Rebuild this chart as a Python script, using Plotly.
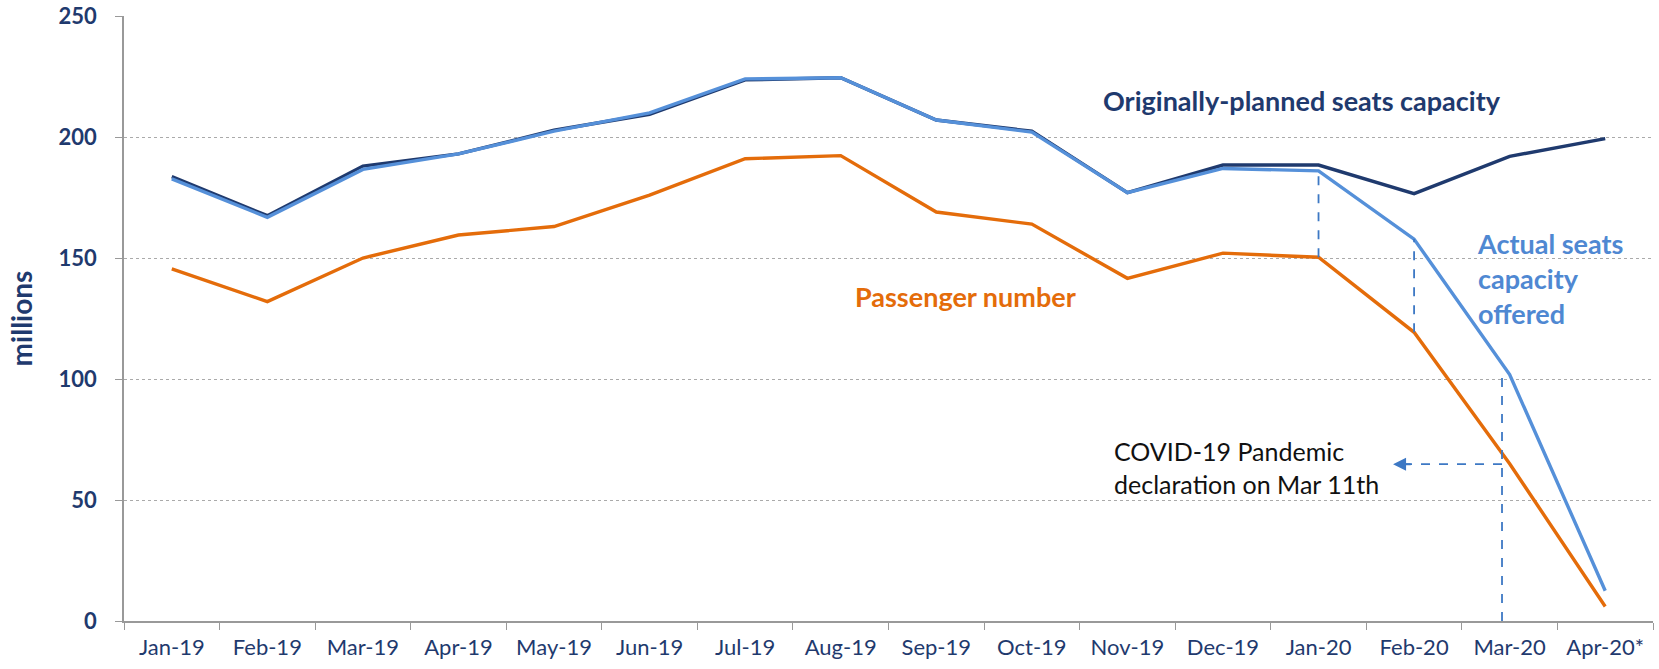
import plotly.graph_objects as go

months = ["Jan-19", "Feb-19", "Mar-19", "Apr-19", "May-19", "Jun-19", "Jul-19", "Aug-19",
          "Sep-19", "Oct-19", "Nov-19", "Dec-19", "Jan-20", "Feb-20", "Mar-20", "Apr-20*"]
planned = [183.6, 167.5, 188.0, 193.0, 202.8, 209.4, 223.6, 224.5,
           207.0, 202.4, 177.0, 188.4, 188.4, 176.6, 192.0, 199.3]
actual = [182.7, 166.8, 186.6, 193.0, 202.4, 210.0, 224.0, 224.5,
          207.0, 202.0, 177.0, 187.0, 186.0, 157.8, 101.8, 12.5]
passengers = [145.5, 132.0, 150.0, 159.5, 163.0, 176.0, 191.0, 192.3,
              169.0, 164.0, 141.6, 152.0, 150.3, 119.3, 65.0, 6.0]

NAVY = "#1F3A6E"
LIGHT = "#5590D9"
LIGHT_TXT = "#4F88D2"
ORANGE = "#E46C0A"
DASH = "#3D78C4"
FONT = "Lato, sans-serif"

fig = go.Figure()
fig.add_trace(go.Scatter(x=months, y=planned, mode="lines",
                         line=dict(color=NAVY, width=3.4), name="Originally-planned seats capacity"))
fig.add_trace(go.Scatter(x=months, y=actual, mode="lines",
                         line=dict(color=LIGHT, width=3.4), name="Actual seats capacity offered"))
fig.add_trace(go.Scatter(x=months, y=passengers, mode="lines",
                         line=dict(color=ORANGE, width=3.4), name="Passenger number"))

# dashed drop lines
jan20 = months.index("Jan-20")
feb20 = months.index("Feb-20")
mar20 = months.index("Mar-20")
mar_x = mar20 - 0.08
for xi, y0, y1 in [(jan20, passengers[jan20], actual[jan20]),
                   (feb20, passengers[feb20], actual[feb20]),
                   (mar_x, 0, actual[mar20])]:
    fig.add_shape(type="line", xref="x", yref="y", x0=xi, x1=xi, y0=y0, y1=y1,
                  line=dict(color=DASH, width=1.8, dash="dash"))

arrow_y = 64.8
arrow_end = 12.78
fig.add_shape(type="line", xref="x", yref="y", x0=mar_x, x1=arrow_end + 0.12, y0=arrow_y, y1=arrow_y,
              line=dict(color=DASH, width=1.8, dash="dash"))
fig.add_annotation(x=arrow_end, y=arrow_y, ax=arrow_end + 0.2, ay=arrow_y, xref="x", yref="y",
                   axref="x", ayref="y", text="", showarrow=True, arrowhead=2, arrowsize=1.3,
                   arrowwidth=2, arrowcolor=DASH, standoff=0)

fig.add_annotation(x=9.84, y=63.5, xref="x", yref="y", xanchor="left", yanchor="middle",
                   text="COVID-19 Pandemic<br>declaration on Mar 11th", showarrow=False, align="left",
                   font=dict(family=FONT, size=25, color="#111111"))
fig.add_annotation(x=11.83, y=215, xref="x", yref="y", xanchor="center", yanchor="middle",
                   text="<b>Originally-planned seats capacity</b>", showarrow=False,
                   font=dict(family=FONT, size=27, color=NAVY))
fig.add_annotation(x=13.64, y=141.7, xref="x", yref="y", xanchor="left", yanchor="middle",
                   text="<b>Actual seats<br>capacity<br>offered</b>", showarrow=False, align="left",
                   font=dict(family=FONT, size=27, color=LIGHT_TXT))
fig.add_annotation(x=8.31, y=134, xref="x", yref="y", xanchor="center", yanchor="middle",
                   text="<b>Passenger number</b>", showarrow=False,
                   font=dict(family=FONT, size=27, color=ORANGE))

fig.update_layout(
    width=1659, height=669,
    margin=dict(l=124, r=6, t=16, b=48, autoexpand=False),
    paper_bgcolor="white", plot_bgcolor="white",
    showlegend=False,
    font=dict(family=FONT, color=NAVY),
)
fig.update_xaxes(
    type="category", range=[-0.5, 15.5], tickson="boundaries",
    ticks="outside", ticklen=7, tickcolor="#999999", tickwidth=1,
    showline=True, linecolor="#999999", linewidth=1.5, showgrid=False,
    ticklabelstandoff=6, automargin=False,
    tickfont=dict(family=FONT, size=22, color=NAVY),
)
fig.update_yaxes(
    range=[0, 250], dtick=50, ticks="outside", ticklen=7, tickcolor="#999999",
    showline=True, linecolor="#999999", linewidth=1.5,
    showgrid=True, gridcolor="#AAAAAA", griddash="dot", gridwidth=1,
    zeroline=False, ticklabelstandoff=14, ticklabeloverflow="allow", automargin=False,
    tickfont=dict(family=FONT, size=22, color=NAVY, weight="bold"),
    title=dict(text="<b>millions</b>", standoff=18,
               font=dict(family=FONT, size=28, color=NAVY)),
)

fig.write_html("out.html", config={"displayModeBar": False},
               post_script="document.body.style.margin='0';document.body.style.overflow='hidden';")
